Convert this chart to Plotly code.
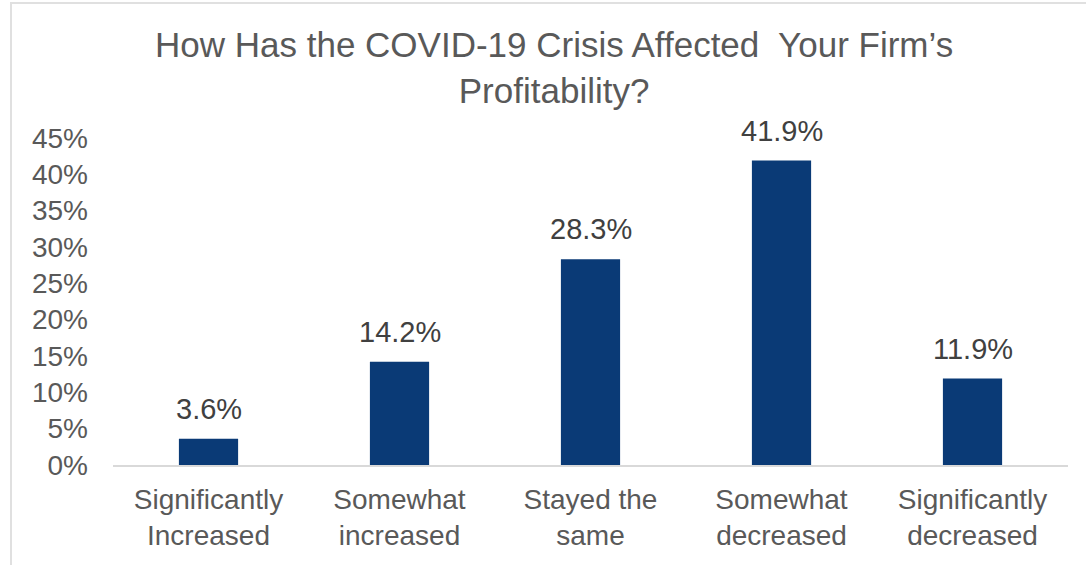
import plotly.graph_objects as go

categories = ["Significantly<br>Increased", "Somewhat<br>increased", "Stayed the<br>same",
              "Somewhat<br>decreased", "Significantly<br>decreased"]
values = [3.6, 14.2, 28.3, 41.9, 11.9]
value_labels = ["3.6%", "14.2%", "28.3%", "41.9%", "11.9%"]
tick_vals = [0, 5, 10, 15, 20, 25, 30, 35, 40, 45]
tick_text = ["0%", "5%", "10%", "15%", "20%", "25%", "30%", "35%", "40%", "45%"]

FONT = "Liberation Sans, Arial, sans-serif"
fig = go.Figure()
fig.add_trace(go.Bar(x=categories, y=values, marker_color="#0A3A76",
                     marker_line_width=0, width=0.31, hoverinfo="skip"))

for c, v, t in zip(categories, values, value_labels):
    fig.add_annotation(x=c, y=v, text=t, showarrow=False, yanchor="bottom",
                       yshift=12, font=dict(size=29, color="#404040", family=FONT))

fig.add_annotation(xref="paper", yref="paper", x=0.462, y=1.352, xanchor="center", yanchor="top",
                   showarrow=False, align="center",
                   text="How Has the COVID-19 Crisis Affected  Your Firm’s<br>Profitability?",
                   font=dict(size=35, color="#595959", family=FONT))

fig.update_layout(
    width=1086, height=565,
    margin=dict(l=113, r=18, t=138, b=100),
    paper_bgcolor="white", plot_bgcolor="white",
    showlegend=False,
    font=dict(family=FONT, color="#595959"),
    xaxis=dict(showgrid=False, showline=True, linecolor="#D9D9D9", linewidth=2,
               ticks="", automargin=False, ticklabelstandoff=8,
               tickfont=dict(size=28, color="#595959")),
    yaxis=dict(range=[0, 45], tickvals=tick_vals, ticktext=tick_text, showgrid=False,
               zeroline=False, showline=False, ticks="", ticklabelstandoff=24,
               automargin=False, tickfont=dict(size=28, color="#595959")),
)
fig.add_shape(type="rect", xref="paper", yref="paper", x0=-0.1068, x1=1.05, y0=-0.35, y1=1.4128,
              line=dict(color="#E0E0E0", width=2), fillcolor="rgba(0,0,0,0)")
fig.write_html("out.html", post_script="document.body.style.margin='0';",
               config={"displayModeBar": False})
